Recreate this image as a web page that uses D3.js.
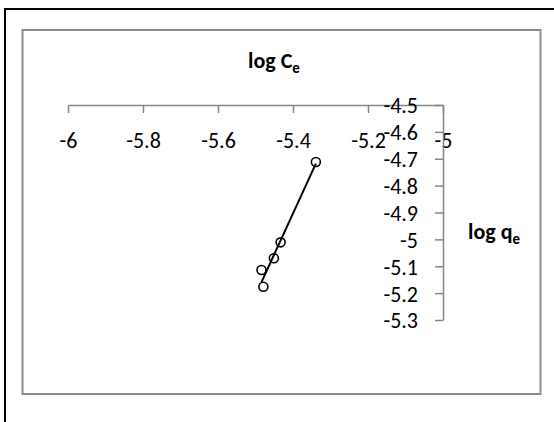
<!DOCTYPE html>
<html>
<head>
<meta charset="utf-8">
<script src="https://cdn.jsdelivr.net/npm/d3@7"></script>
<style>
  body { margin: 0; background: #fff; }
  svg { display: block; font-family: Carlito, Calibri, Lato, "Open Sans", sans-serif; }
</style>
</head>
<body>
<div id="chart"></div>
<script>
// data
const logCe = [-5.339, -5.433, -5.451, -5.484, -5.479];
const logQe = [-4.712, -5.011, -5.070, -5.114, -5.176];
const xTicks = [-6, -5.8, -5.6, -5.4, -5.2, -5];
const yTicks = [-4.5, -4.6, -4.7, -4.8, -4.9, -5, -5.1, -5.2, -5.3];

const width = 554, height = 422;

const svg = d3.select('#chart')
  .append('svg')
  .attr('width', width)
  .attr('height', height);

// outer frame (only top/left in view) and chart area border
svg.append('rect')
  .attr('x', 5).attr('y', 9)
  .attr('width', 700).attr('height', 600)
  .attr('fill', 'none').attr('stroke', '#000').attr('stroke-width', 2);

svg.append('rect')
  .attr('x', 22.5).attr('y', 30)
  .attr('width', 518).attr('height', 364)
  .attr('fill', '#fff').attr('stroke', '#8c8c8c').attr('stroke-width', 2);

// scales
const x = d3.scaleLinear().domain([-6, -5]).range([68, 443]);
const y = d3.scaleLinear().domain([-5.3, -4.5]).range([320, 105]);

const fmt = d => String(+d.toFixed(1)); // plain hyphen minus like Excel

// x axis sits at y = -4.5, ticks pointing down
const xAxis = svg.append('g')
  .attr('transform', `translate(0,${y(-4.5)})`)
  .call(d3.axisBottom(x).tickValues(xTicks).tickSize(8).tickPadding(27)
    .tickFormat(fmt).tickSizeOuter(0));

// y axis sits at x = -5, ticks pointing left
const yAxis = svg.append('g')
  .attr('transform', `translate(${x(-5)},0)`)
  .call(d3.axisLeft(y).tickValues(yTicks).tickSize(8).tickPadding(17)
    .tickFormat(fmt).tickSizeOuter(0));

[xAxis, yAxis].forEach(g => {
  g.select('.domain').attr('stroke', '#868686').attr('stroke-width', 1.5);
  g.selectAll('.tick line').attr('stroke', '#868686').attr('stroke-width', 1.5);
  g.selectAll('.tick text')
    .attr('fill', '#000')
    .style('font-size', '22px')
    .style('font-family', 'Carlito, Calibri, Lato, "Open Sans", sans-serif');
});

xAxis.selectAll('.tick text').attr('dy', '0.36em');
yAxis.selectAll('.tick text').attr('dy', '0.36em');

// linear trendline (least squares)
const mx = d3.mean(logCe), my = d3.mean(logQe);
const slope = d3.sum(logCe, (v, i) => (v - mx) * (logQe[i] - my)) /
              d3.sum(logCe, v => (v - mx) * (v - mx));
const icpt = my - slope * mx;
const xExt = d3.extent(logCe);

svg.append('line')
  .attr('x1', x(xExt[0])).attr('y1', y(slope * xExt[0] + icpt))
  .attr('x2', x(xExt[1])).attr('y2', y(slope * xExt[1] + icpt))
  .attr('stroke', '#000').attr('stroke-width', 2);

// markers
svg.selectAll('.pt')
  .data(logCe)
  .enter()
  .append('circle')
  .attr('class', 'pt')
  .attr('cx', d => x(d))
  .attr('cy', (d, i) => y(logQe[i]))
  .attr('r', 4.5)
  .attr('fill', 'none')
  .attr('stroke', '#000')
  .attr('stroke-width', 1.6);

// axis titles
const t1 = svg.append('text')
  .attr('x', 274).attr('y', 68)
  .attr('text-anchor', 'middle')
  .style('font-size', '22px').style('font-weight', 'bold');
t1.append('tspan').text('log C');
t1.append('tspan').attr('dy', 5).style('font-size', '15px').text('e');

const t2 = svg.append('text')
  .attr('x', 468).attr('y', 239)
  .style('font-size', '22px').style('font-weight', 'bold');
t2.append('tspan').text('log q');
t2.append('tspan').attr('dy', 5).style('font-size', '15px').text('e');
</script>
</body>
</html>
